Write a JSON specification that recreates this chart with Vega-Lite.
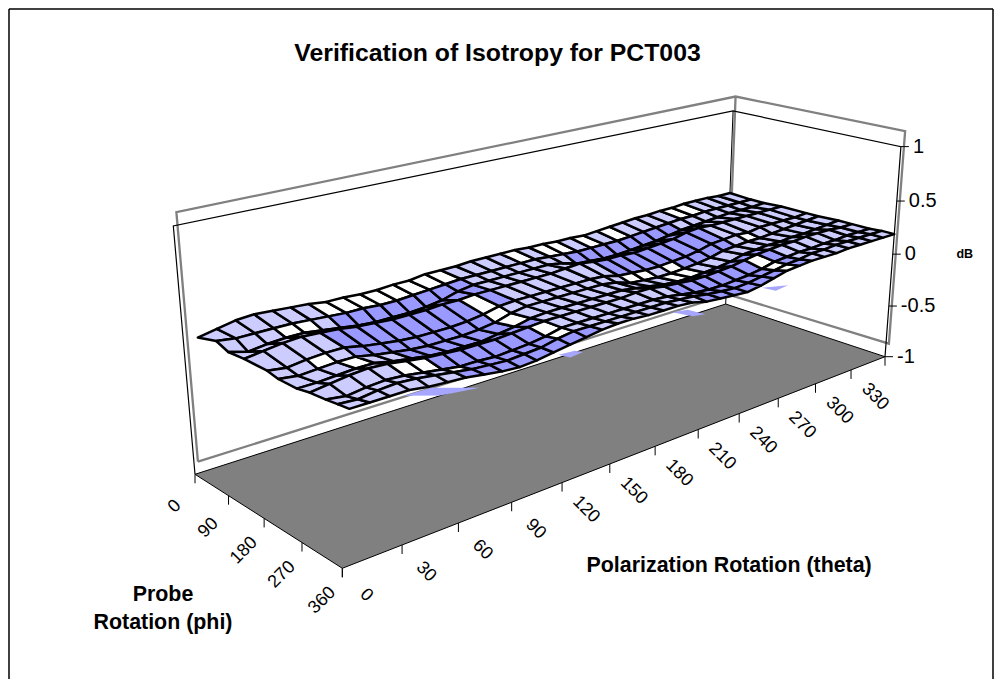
{"$schema":"https://vega.github.io/schema/vega-lite/v6.json","width":1003,"height":679,"padding":0,"autosize":"none","background":"white","config":{"view":{"stroke":null},"text":{"font":"Liberation Sans"}},
"title":{"text":"Verification of Isotropy for PCT003","font":"Liberation Sans","fontSize":24.8,"fontWeight":"bold","color":"#000","anchor":"middle","frame":"group","offset":-66,"dx":-4},
"datasets":{"surface":[
{"theta":0,"phi":0,"dB":0.10,"band":1},{"theta":10,"phi":0,"dB":0.13,"band":1},{"theta":20,"phi":0,"dB":0.16,"band":1},{"theta":30,"phi":0,"dB":0.17,"band":1},{"theta":40,"phi":0,"dB":0.16,"band":1},{"theta":50,"phi":0,"dB":0.15,"band":1},{"theta":60,"phi":0,"dB":0.14,"band":0},{"theta":70,"phi":0,"dB":0.12,"band":0},{"theta":80,"phi":0,"dB":0.12,"band":0},{"theta":90,"phi":0,"dB":0.11,"band":0},{"theta":100,"phi":0,"dB":0.11,"band":0},{"theta":110,"phi":0,"dB":0.12,"band":0},{"theta":120,"phi":0,"dB":0.12,"band":0},{"theta":130,"phi":0,"dB":0.14,"band":0},{"theta":140,"phi":0,"dB":0.14,"band":1},{"theta":150,"phi":0,"dB":0.14,"band":1},{"theta":160,"phi":0,"dB":0.15,"band":1},{"theta":170,"phi":0,"dB":0.15,"band":1},{"theta":180,"phi":0,"dB":0.15,"band":0},{"theta":190,"phi":0,"dB":0.15,"band":1},{"theta":200,"phi":0,"dB":0.14,"band":0},{"theta":210,"phi":0,"dB":0.14,"band":0},{"theta":220,"phi":0,"dB":0.13,"band":1},{"theta":230,"phi":0,"dB":0.13,"band":0},{"theta":240,"phi":0,"dB":0.12,"band":1},{"theta":250,"phi":0,"dB":0.13,"band":0},{"theta":260,"phi":0,"dB":0.14,"band":1},{"theta":270,"phi":0,"dB":0.15,"band":1},{"theta":280,"phi":0,"dB":0.16,"band":1},{"theta":290,"phi":0,"dB":0.16,"band":1},{"theta":300,"phi":0,"dB":0.17,"band":0},{"theta":310,"phi":0,"dB":0.17,"band":0},{"theta":320,"phi":0,"dB":0.18,"band":1},{"theta":330,"phi":0,"dB":0.18,"band":1},{"theta":340,"phi":0,"dB":0.18,"band":1},{"theta":350,"phi":0,"dB":0.17,"band":1},{"theta":360,"phi":0,"dB":0.17,"band":1},
{"theta":0,"phi":50,"dB":0.15,"band":1},{"theta":10,"phi":50,"dB":0.13,"band":1},{"theta":20,"phi":50,"dB":0.13,"band":1},{"theta":30,"phi":50,"dB":0.13,"band":0},{"theta":40,"phi":50,"dB":0.13,"band":0},{"theta":50,"phi":50,"dB":0.12,"band":1},{"theta":60,"phi":50,"dB":0.11,"band":2},{"theta":70,"phi":50,"dB":0.10,"band":2},{"theta":80,"phi":50,"dB":0.10,"band":2},{"theta":90,"phi":50,"dB":0.09,"band":2},{"theta":100,"phi":50,"dB":0.09,"band":2},{"theta":110,"phi":50,"dB":0.10,"band":2},{"theta":120,"phi":50,"dB":0.11,"band":2},{"theta":130,"phi":50,"dB":0.12,"band":2},{"theta":140,"phi":50,"dB":0.13,"band":1},{"theta":150,"phi":50,"dB":0.13,"band":1},{"theta":160,"phi":50,"dB":0.13,"band":1},{"theta":170,"phi":50,"dB":0.13,"band":1},{"theta":180,"phi":50,"dB":0.13,"band":1},{"theta":190,"phi":50,"dB":0.13,"band":1},{"theta":200,"phi":50,"dB":0.12,"band":1},{"theta":210,"phi":50,"dB":0.11,"band":2},{"theta":220,"phi":50,"dB":0.10,"band":2},{"theta":230,"phi":50,"dB":0.10,"band":2},{"theta":240,"phi":50,"dB":0.10,"band":2},{"theta":250,"phi":50,"dB":0.10,"band":2},{"theta":260,"phi":50,"dB":0.11,"band":2},{"theta":270,"phi":50,"dB":0.12,"band":2},{"theta":280,"phi":50,"dB":0.13,"band":2},{"theta":290,"phi":50,"dB":0.14,"band":1},{"theta":300,"phi":50,"dB":0.15,"band":1},{"theta":310,"phi":50,"dB":0.15,"band":1},{"theta":320,"phi":50,"dB":0.16,"band":1},{"theta":330,"phi":50,"dB":0.16,"band":1},{"theta":340,"phi":50,"dB":0.16,"band":1},{"theta":350,"phi":50,"dB":0.16,"band":1},{"theta":360,"phi":50,"dB":0.16,"band":1},
{"theta":0,"phi":80,"dB":0.11,"band":1},{"theta":10,"phi":80,"dB":0.07,"band":1},{"theta":20,"phi":80,"dB":0.09,"band":1},{"theta":30,"phi":80,"dB":0.10,"band":1},{"theta":40,"phi":80,"dB":0.10,"band":1},{"theta":50,"phi":80,"dB":0.08,"band":2},{"theta":60,"phi":80,"dB":0.06,"band":2},{"theta":70,"phi":80,"dB":0.04,"band":2},{"theta":80,"phi":80,"dB":0.03,"band":2},{"theta":90,"phi":80,"dB":0.03,"band":2},{"theta":100,"phi":80,"dB":0.03,"band":2},{"theta":110,"phi":80,"dB":0.04,"band":2},{"theta":120,"phi":80,"dB":0.06,"band":2},{"theta":130,"phi":80,"dB":0.10,"band":2},{"theta":140,"phi":80,"dB":0.12,"band":1},{"theta":150,"phi":80,"dB":0.12,"band":1},{"theta":160,"phi":80,"dB":0.12,"band":1},{"theta":170,"phi":80,"dB":0.12,"band":1},{"theta":180,"phi":80,"dB":0.12,"band":1},{"theta":190,"phi":80,"dB":0.12,"band":1},{"theta":200,"phi":80,"dB":0.10,"band":1},{"theta":210,"phi":80,"dB":0.06,"band":2},{"theta":220,"phi":80,"dB":0.05,"band":2},{"theta":230,"phi":80,"dB":0.04,"band":2},{"theta":240,"phi":80,"dB":0.04,"band":2},{"theta":250,"phi":80,"dB":0.05,"band":2},{"theta":260,"phi":80,"dB":0.06,"band":2},{"theta":270,"phi":80,"dB":0.07,"band":2},{"theta":280,"phi":80,"dB":0.09,"band":2},{"theta":290,"phi":80,"dB":0.11,"band":1},{"theta":300,"phi":80,"dB":0.12,"band":1},{"theta":310,"phi":80,"dB":0.13,"band":1},{"theta":320,"phi":80,"dB":0.14,"band":1},{"theta":330,"phi":80,"dB":0.15,"band":1},{"theta":340,"phi":80,"dB":0.15,"band":1},{"theta":350,"phi":80,"dB":0.15,"band":1},{"theta":360,"phi":80,"dB":0.16,"band":1},
{"theta":0,"phi":120,"dB":0.12,"band":1},{"theta":10,"phi":120,"dB":0.14,"band":1},{"theta":20,"phi":120,"dB":0.16,"band":1},{"theta":30,"phi":120,"dB":0.17,"band":1},{"theta":40,"phi":120,"dB":0.16,"band":2},{"theta":50,"phi":120,"dB":0.15,"band":2},{"theta":60,"phi":120,"dB":0.13,"band":2},{"theta":70,"phi":120,"dB":0.12,"band":2},{"theta":80,"phi":120,"dB":0.11,"band":2},{"theta":90,"phi":120,"dB":0.11,"band":2},{"theta":100,"phi":120,"dB":0.11,"band":2},{"theta":110,"phi":120,"dB":0.12,"band":2},{"theta":120,"phi":120,"dB":0.12,"band":0},{"theta":130,"phi":120,"dB":0.13,"band":2},{"theta":140,"phi":120,"dB":0.13,"band":1},{"theta":150,"phi":120,"dB":0.13,"band":1},{"theta":160,"phi":120,"dB":0.13,"band":1},{"theta":170,"phi":120,"dB":0.13,"band":1},{"theta":180,"phi":120,"dB":0.13,"band":1},{"theta":190,"phi":120,"dB":0.14,"band":1},{"theta":200,"phi":120,"dB":0.15,"band":1},{"theta":210,"phi":120,"dB":0.13,"band":2},{"theta":220,"phi":120,"dB":0.12,"band":2},{"theta":230,"phi":120,"dB":0.12,"band":2},{"theta":240,"phi":120,"dB":0.11,"band":2},{"theta":250,"phi":120,"dB":0.12,"band":2},{"theta":260,"phi":120,"dB":0.13,"band":2},{"theta":270,"phi":120,"dB":0.14,"band":2},{"theta":280,"phi":120,"dB":0.17,"band":2},{"theta":290,"phi":120,"dB":0.18,"band":1},{"theta":300,"phi":120,"dB":0.17,"band":1},{"theta":310,"phi":120,"dB":0.17,"band":1},{"theta":320,"phi":120,"dB":0.17,"band":1},{"theta":330,"phi":120,"dB":0.17,"band":1},{"theta":340,"phi":120,"dB":0.17,"band":1},{"theta":350,"phi":120,"dB":0.17,"band":1},{"theta":360,"phi":120,"dB":0.17,"band":1},
{"theta":0,"phi":176,"dB":0.12,"band":1},{"theta":10,"phi":176,"dB":0.10,"band":1},{"theta":20,"phi":176,"dB":0.12,"band":0},{"theta":30,"phi":176,"dB":0.13,"band":1},{"theta":40,"phi":176,"dB":0.13,"band":2},{"theta":50,"phi":176,"dB":0.10,"band":2},{"theta":60,"phi":176,"dB":0.08,"band":2},{"theta":70,"phi":176,"dB":0.06,"band":2},{"theta":80,"phi":176,"dB":0.05,"band":2},{"theta":90,"phi":176,"dB":0.05,"band":2},{"theta":100,"phi":176,"dB":0.05,"band":2},{"theta":110,"phi":176,"dB":0.06,"band":2},{"theta":120,"phi":176,"dB":0.08,"band":0},{"theta":130,"phi":176,"dB":0.11,"band":1},{"theta":140,"phi":176,"dB":0.12,"band":1},{"theta":150,"phi":176,"dB":0.12,"band":1},{"theta":160,"phi":176,"dB":0.12,"band":1},{"theta":170,"phi":176,"dB":0.12,"band":1},{"theta":180,"phi":176,"dB":0.12,"band":1},{"theta":190,"phi":176,"dB":0.12,"band":1},{"theta":200,"phi":176,"dB":0.11,"band":1},{"theta":210,"phi":176,"dB":0.08,"band":0},{"theta":220,"phi":176,"dB":0.07,"band":0},{"theta":230,"phi":176,"dB":0.06,"band":1},{"theta":240,"phi":176,"dB":0.06,"band":0},{"theta":250,"phi":176,"dB":0.07,"band":2},{"theta":260,"phi":176,"dB":0.08,"band":2},{"theta":270,"phi":176,"dB":0.10,"band":2},{"theta":280,"phi":176,"dB":0.13,"band":2},{"theta":290,"phi":176,"dB":0.14,"band":1},{"theta":300,"phi":176,"dB":0.15,"band":0},{"theta":310,"phi":176,"dB":0.14,"band":1},{"theta":320,"phi":176,"dB":0.16,"band":1},{"theta":330,"phi":176,"dB":0.16,"band":1},{"theta":340,"phi":176,"dB":0.16,"band":1},{"theta":350,"phi":176,"dB":0.16,"band":1},{"theta":360,"phi":176,"dB":0.17,"band":1},
{"theta":0,"phi":202,"dB":0.10,"band":1},{"theta":10,"phi":202,"dB":0.08,"band":1},{"theta":20,"phi":202,"dB":0.09,"band":1},{"theta":30,"phi":202,"dB":0.10,"band":0},{"theta":40,"phi":202,"dB":0.10,"band":1},{"theta":50,"phi":202,"dB":0.07,"band":1},{"theta":60,"phi":202,"dB":0.05,"band":2},{"theta":70,"phi":202,"dB":0.03,"band":2},{"theta":80,"phi":202,"dB":0.02,"band":2},{"theta":90,"phi":202,"dB":0.02,"band":2},{"theta":100,"phi":202,"dB":0.02,"band":2},{"theta":110,"phi":202,"dB":0.03,"band":2},{"theta":120,"phi":202,"dB":0.05,"band":0},{"theta":130,"phi":202,"dB":0.09,"band":1},{"theta":140,"phi":202,"dB":0.11,"band":1},{"theta":150,"phi":202,"dB":0.11,"band":1},{"theta":160,"phi":202,"dB":0.11,"band":1},{"theta":170,"phi":202,"dB":0.11,"band":1},{"theta":180,"phi":202,"dB":0.11,"band":1},{"theta":190,"phi":202,"dB":0.11,"band":1},{"theta":200,"phi":202,"dB":0.09,"band":1},{"theta":210,"phi":202,"dB":0.05,"band":1},{"theta":220,"phi":202,"dB":0.04,"band":1},{"theta":230,"phi":202,"dB":0.03,"band":0},{"theta":240,"phi":202,"dB":0.03,"band":0},{"theta":250,"phi":202,"dB":0.04,"band":1},{"theta":260,"phi":202,"dB":0.05,"band":1},{"theta":270,"phi":202,"dB":0.07,"band":1},{"theta":280,"phi":202,"dB":0.10,"band":1},{"theta":290,"phi":202,"dB":0.11,"band":1},{"theta":300,"phi":202,"dB":0.12,"band":1},{"theta":310,"phi":202,"dB":0.12,"band":1},{"theta":320,"phi":202,"dB":0.13,"band":1},{"theta":330,"phi":202,"dB":0.14,"band":1},{"theta":340,"phi":202,"dB":0.15,"band":1},{"theta":350,"phi":202,"dB":0.16,"band":1},{"theta":360,"phi":202,"dB":0.17,"band":1},
{"theta":0,"phi":245,"dB":0.10,"band":1},{"theta":10,"phi":245,"dB":0.10,"band":1},{"theta":20,"phi":245,"dB":0.11,"band":1},{"theta":30,"phi":245,"dB":0.12,"band":1},{"theta":40,"phi":245,"dB":0.12,"band":1},{"theta":50,"phi":245,"dB":0.09,"band":1},{"theta":60,"phi":245,"dB":0.07,"band":2},{"theta":70,"phi":245,"dB":0.05,"band":2},{"theta":80,"phi":245,"dB":0.04,"band":2},{"theta":90,"phi":245,"dB":0.04,"band":2},{"theta":100,"phi":245,"dB":0.04,"band":2},{"theta":110,"phi":245,"dB":0.06,"band":2},{"theta":120,"phi":245,"dB":0.08,"band":2},{"theta":130,"phi":245,"dB":0.11,"band":1},{"theta":140,"phi":245,"dB":0.12,"band":1},{"theta":150,"phi":245,"dB":0.12,"band":1},{"theta":160,"phi":245,"dB":0.12,"band":1},{"theta":170,"phi":245,"dB":0.12,"band":1},{"theta":180,"phi":245,"dB":0.12,"band":1},{"theta":190,"phi":245,"dB":0.12,"band":1},{"theta":200,"phi":245,"dB":0.10,"band":1},{"theta":210,"phi":245,"dB":0.08,"band":2},{"theta":220,"phi":245,"dB":0.06,"band":2},{"theta":230,"phi":245,"dB":0.05,"band":2},{"theta":240,"phi":245,"dB":0.05,"band":2},{"theta":250,"phi":245,"dB":0.06,"band":2},{"theta":260,"phi":245,"dB":0.07,"band":2},{"theta":270,"phi":245,"dB":0.09,"band":2},{"theta":280,"phi":245,"dB":0.12,"band":2},{"theta":290,"phi":245,"dB":0.13,"band":1},{"theta":300,"phi":245,"dB":0.14,"band":1},{"theta":310,"phi":245,"dB":0.14,"band":1},{"theta":320,"phi":245,"dB":0.15,"band":1},{"theta":330,"phi":245,"dB":0.15,"band":1},{"theta":340,"phi":245,"dB":0.16,"band":1},{"theta":350,"phi":245,"dB":0.17,"band":1},{"theta":360,"phi":245,"dB":0.18,"band":1},
{"theta":0,"phi":274,"dB":0.12,"band":1},{"theta":10,"phi":274,"dB":0.14,"band":1},{"theta":20,"phi":274,"dB":0.16,"band":1},{"theta":30,"phi":274,"dB":0.17,"band":1},{"theta":40,"phi":274,"dB":0.16,"band":0},{"theta":50,"phi":274,"dB":0.14,"band":0},{"theta":60,"phi":274,"dB":0.12,"band":2},{"theta":70,"phi":274,"dB":0.11,"band":2},{"theta":80,"phi":274,"dB":0.10,"band":2},{"theta":90,"phi":274,"dB":0.10,"band":2},{"theta":100,"phi":274,"dB":0.10,"band":2},{"theta":110,"phi":274,"dB":0.11,"band":2},{"theta":120,"phi":274,"dB":0.12,"band":0},{"theta":130,"phi":274,"dB":0.13,"band":1},{"theta":140,"phi":274,"dB":0.13,"band":1},{"theta":150,"phi":274,"dB":0.13,"band":1},{"theta":160,"phi":274,"dB":0.13,"band":1},{"theta":170,"phi":274,"dB":0.13,"band":1},{"theta":180,"phi":274,"dB":0.13,"band":1},{"theta":190,"phi":274,"dB":0.14,"band":1},{"theta":200,"phi":274,"dB":0.14,"band":1},{"theta":210,"phi":274,"dB":0.12,"band":2},{"theta":220,"phi":274,"dB":0.11,"band":2},{"theta":230,"phi":274,"dB":0.10,"band":2},{"theta":240,"phi":274,"dB":0.10,"band":2},{"theta":250,"phi":274,"dB":0.11,"band":2},{"theta":260,"phi":274,"dB":0.12,"band":2},{"theta":270,"phi":274,"dB":0.14,"band":0},{"theta":280,"phi":274,"dB":0.16,"band":2},{"theta":290,"phi":274,"dB":0.17,"band":1},{"theta":300,"phi":274,"dB":0.18,"band":1},{"theta":310,"phi":274,"dB":0.18,"band":1},{"theta":320,"phi":274,"dB":0.19,"band":1},{"theta":330,"phi":274,"dB":0.19,"band":1},{"theta":340,"phi":274,"dB":0.19,"band":1},{"theta":350,"phi":274,"dB":0.18,"band":1},{"theta":360,"phi":274,"dB":0.18,"band":1},
{"theta":0,"phi":310,"dB":0.13,"band":1},{"theta":10,"phi":310,"dB":0.11,"band":1},{"theta":20,"phi":310,"dB":0.13,"band":1},{"theta":30,"phi":310,"dB":0.14,"band":1},{"theta":40,"phi":310,"dB":0.13,"band":1},{"theta":50,"phi":310,"dB":0.11,"band":1},{"theta":60,"phi":310,"dB":0.09,"band":0},{"theta":70,"phi":310,"dB":0.07,"band":2},{"theta":80,"phi":310,"dB":0.07,"band":2},{"theta":90,"phi":310,"dB":0.06,"band":2},{"theta":100,"phi":310,"dB":0.07,"band":2},{"theta":110,"phi":310,"dB":0.08,"band":2},{"theta":120,"phi":310,"dB":0.10,"band":0},{"theta":130,"phi":310,"dB":0.13,"band":1},{"theta":140,"phi":310,"dB":0.13,"band":1},{"theta":150,"phi":310,"dB":0.13,"band":1},{"theta":160,"phi":310,"dB":0.13,"band":1},{"theta":170,"phi":310,"dB":0.13,"band":1},{"theta":180,"phi":310,"dB":0.13,"band":1},{"theta":190,"phi":310,"dB":0.13,"band":1},{"theta":200,"phi":310,"dB":0.12,"band":1},{"theta":210,"phi":310,"dB":0.10,"band":2},{"theta":220,"phi":310,"dB":0.08,"band":2},{"theta":230,"phi":310,"dB":0.07,"band":2},{"theta":240,"phi":310,"dB":0.07,"band":2},{"theta":250,"phi":310,"dB":0.08,"band":2},{"theta":260,"phi":310,"dB":0.09,"band":2},{"theta":270,"phi":310,"dB":0.11,"band":0},{"theta":280,"phi":310,"dB":0.14,"band":2},{"theta":290,"phi":310,"dB":0.15,"band":1},{"theta":300,"phi":310,"dB":0.16,"band":1},{"theta":310,"phi":310,"dB":0.16,"band":1},{"theta":320,"phi":310,"dB":0.17,"band":1},{"theta":330,"phi":310,"dB":0.17,"band":1},{"theta":340,"phi":310,"dB":0.18,"band":1},{"theta":350,"phi":310,"dB":0.18,"band":1},{"theta":360,"phi":310,"dB":0.18,"band":1},
{"theta":0,"phi":335,"dB":0.14,"band":1},{"theta":10,"phi":335,"dB":0.13,"band":1},{"theta":20,"phi":335,"dB":0.15,"band":1},{"theta":30,"phi":335,"dB":0.16,"band":1},{"theta":40,"phi":335,"dB":0.15,"band":1},{"theta":50,"phi":335,"dB":0.13,"band":1},{"theta":60,"phi":335,"dB":0.11,"band":2},{"theta":70,"phi":335,"dB":0.09,"band":2},{"theta":80,"phi":335,"dB":0.08,"band":2},{"theta":90,"phi":335,"dB":0.07,"band":2},{"theta":100,"phi":335,"dB":0.08,"band":2},{"theta":110,"phi":335,"dB":0.09,"band":2},{"theta":120,"phi":335,"dB":0.12,"band":2},{"theta":130,"phi":335,"dB":0.14,"band":2},{"theta":140,"phi":335,"dB":0.14,"band":1},{"theta":150,"phi":335,"dB":0.14,"band":1},{"theta":160,"phi":335,"dB":0.14,"band":1},{"theta":170,"phi":335,"dB":0.14,"band":1},{"theta":180,"phi":335,"dB":0.14,"band":1},{"theta":190,"phi":335,"dB":0.14,"band":1},{"theta":200,"phi":335,"dB":0.13,"band":1},{"theta":210,"phi":335,"dB":0.12,"band":2},{"theta":220,"phi":335,"dB":0.10,"band":2},{"theta":230,"phi":335,"dB":0.09,"band":2},{"theta":240,"phi":335,"dB":0.08,"band":2},{"theta":250,"phi":335,"dB":0.09,"band":2},{"theta":260,"phi":335,"dB":0.11,"band":2},{"theta":270,"phi":335,"dB":0.13,"band":0},{"theta":280,"phi":335,"dB":0.15,"band":2},{"theta":290,"phi":335,"dB":0.16,"band":1},{"theta":300,"phi":335,"dB":0.18,"band":1},{"theta":310,"phi":335,"dB":0.18,"band":1},{"theta":320,"phi":335,"dB":0.19,"band":1},{"theta":330,"phi":335,"dB":0.19,"band":1},{"theta":340,"phi":335,"dB":0.19,"band":1},{"theta":350,"phi":335,"dB":0.19,"band":1},{"theta":360,"phi":335,"dB":0.19,"band":1},
{"theta":0,"phi":360,"dB":0.15,"band":1},{"theta":10,"phi":360,"dB":0.15,"band":1},{"theta":20,"phi":360,"dB":0.15,"band":1},{"theta":30,"phi":360,"dB":0.15,"band":1},{"theta":40,"phi":360,"dB":0.13,"band":1},{"theta":50,"phi":360,"dB":0.12,"band":1},{"theta":60,"phi":360,"dB":0.11,"band":1},{"theta":70,"phi":360,"dB":0.09,"band":1},{"theta":80,"phi":360,"dB":0.07,"band":1},{"theta":90,"phi":360,"dB":0.06,"band":1},{"theta":100,"phi":360,"dB":0.07,"band":1},{"theta":110,"phi":360,"dB":0.09,"band":1},{"theta":120,"phi":360,"dB":0.11,"band":1},{"theta":130,"phi":360,"dB":0.13,"band":1},{"theta":140,"phi":360,"dB":0.15,"band":1},{"theta":150,"phi":360,"dB":0.16,"band":1},{"theta":160,"phi":360,"dB":0.16,"band":1},{"theta":170,"phi":360,"dB":0.15,"band":1},{"theta":180,"phi":360,"dB":0.15,"band":1},{"theta":190,"phi":360,"dB":0.15,"band":1},{"theta":200,"phi":360,"dB":0.14,"band":1},{"theta":210,"phi":360,"dB":0.11,"band":1},{"theta":220,"phi":360,"dB":0.10,"band":1},{"theta":230,"phi":360,"dB":0.09,"band":1},{"theta":240,"phi":360,"dB":0.08,"band":1},{"theta":250,"phi":360,"dB":0.10,"band":1},{"theta":260,"phi":360,"dB":0.13,"band":1},{"theta":270,"phi":360,"dB":0.16,"band":1},{"theta":280,"phi":360,"dB":0.17,"band":1},{"theta":290,"phi":360,"dB":0.18,"band":1},{"theta":300,"phi":360,"dB":0.18,"band":1},{"theta":310,"phi":360,"dB":0.18,"band":1},{"theta":320,"phi":360,"dB":0.19,"band":1},{"theta":330,"phi":360,"dB":0.19,"band":1},{"theta":340,"phi":360,"dB":0.19,"band":1},{"theta":350,"phi":360,"dB":0.19,"band":1},{"theta":360,"phi":360,"dB":0.19,"band":1}
]},
"data":{"values":[
{"group":"floor","seq":0,"theta":0,"phi":0,"dB":-1},{"group":"floor","seq":1,"theta":360,"phi":0,"dB":-1},{"group":"floor","seq":2,"theta":360,"phi":360,"dB":-1},{"group":"floor","seq":3,"theta":0,"phi":360,"dB":-1},
{"group":"gray1","seq":0,"theta":7.9,"phi":-34.2,"dB":-1},{"group":"gray1","seq":1,"theta":7.9,"phi":-34.2,"dB":1.04},{"group":"gray1","seq":2,"theta":374.4,"phi":-34.2,"dB":1.08},{"group":"gray1","seq":3,"theta":374.4,"phi":334.8,"dB":1.08},{"group":"gray1","seq":4,"theta":374.4,"phi":334.8,"dB":-0.97},{"group":"gray1","seq":5,"theta":374.4,"phi":-34.2,"dB":-1},{"group":"gray1","seq":6,"theta":7.9,"phi":-34.2,"dB":-1},
{"group":"gray2","seq":0,"theta":374.4,"phi":-34.2,"dB":1.08},{"group":"gray2","seq":1,"theta":374.4,"phi":-34.2,"dB":-1},
{"group":"black1","seq":0,"theta":0,"phi":0,"dB":-1},{"group":"black1","seq":1,"theta":0,"phi":0,"dB":1},{"group":"black1","seq":2,"theta":360,"phi":0,"dB":1},{"group":"black1","seq":3,"theta":360,"phi":360,"dB":1},{"group":"black1","seq":4,"theta":360,"phi":360,"dB":-1},
{"group":"black2","seq":0,"theta":360,"phi":0,"dB":-1},{"group":"black2","seq":1,"theta":360,"phi":0,"dB":1},
{"group":"patch1","seq":0,"theta":128,"phi":-37,"dB":-1},{"group":"patch1","seq":1,"theta":145,"phi":-35,"dB":-1},{"group":"patch1","seq":2,"theta":164,"phi":16,"dB":-1},{"group":"patch1","seq":3,"theta":142,"phi":0,"dB":-1},
{"group":"patch2","seq":0,"theta":227,"phi":-10,"dB":-1},{"group":"patch2","seq":1,"theta":238,"phi":-6,"dB":-1},{"group":"patch2","seq":2,"theta":240,"phi":8,"dB":-1},{"group":"patch2","seq":3,"theta":229,"phi":13,"dB":-1},
{"group":"patch3","seq":0,"theta":325,"phi":-34,"dB":-1},{"group":"patch3","seq":1,"theta":335,"phi":-24,"dB":-1},{"group":"patch3","seq":2,"theta":337,"phi":14,"dB":-1},{"group":"patch3","seq":3,"theta":329,"phi":6,"dB":-1},
{"group":"patch4","seq":0,"theta":400,"phi":-18,"dB":-1},{"group":"patch4","seq":1,"theta":416,"phi":5,"dB":-1},{"group":"patch4","seq":2,"theta":402,"phi":11,"dB":-1},
{"group":"thetaTick","theta":0,"phi":360,"dB":-1,"label":"0"},{"group":"thetaTick","theta":30,"phi":360,"dB":-1,"label":"30"},{"group":"thetaTick","theta":60,"phi":360,"dB":-1,"label":"60"},{"group":"thetaTick","theta":90,"phi":360,"dB":-1,"label":"90"},{"group":"thetaTick","theta":120,"phi":360,"dB":-1,"label":"120"},{"group":"thetaTick","theta":150,"phi":360,"dB":-1,"label":"150"},{"group":"thetaTick","theta":180,"phi":360,"dB":-1,"label":"180"},{"group":"thetaTick","theta":210,"phi":360,"dB":-1,"label":"210"},{"group":"thetaTick","theta":240,"phi":360,"dB":-1,"label":"240"},{"group":"thetaTick","theta":270,"phi":360,"dB":-1,"label":"270"},{"group":"thetaTick","theta":300,"phi":360,"dB":-1,"label":"300"},{"group":"thetaTick","theta":330,"phi":360,"dB":-1,"label":"330"},{"group":"thetaTick","theta":360,"phi":360,"dB":-1,"label":""},
{"group":"phiTick","theta":0,"phi":0,"dB":-1,"label":"0"},{"group":"phiTick","theta":0,"phi":90,"dB":-1,"label":"90"},{"group":"phiTick","theta":0,"phi":180,"dB":-1,"label":"180"},{"group":"phiTick","theta":0,"phi":270,"dB":-1,"label":"270"},{"group":"phiTick","theta":0,"phi":360,"dB":-1,"label":"360"},
{"group":"zTick","theta":360,"phi":360,"dB":-1,"label":"-1"},{"group":"zTick","theta":360,"phi":360,"dB":-0.5,"label":"-0.5"},{"group":"zTick","theta":360,"phi":360,"dB":0,"label":"0"},{"group":"zTick","theta":360,"phi":360,"dB":0.5,"label":"0.5"},{"group":"zTick","theta":360,"phi":360,"dB":1,"label":"1"},
{"group":"titleTheta","theta":180,"phi":360,"dB":-1,"label":"Polarization Rotation (theta)"},
{"group":"titlePhi1","theta":0,"phi":270,"dB":-1,"label":"Probe"},{"group":"titlePhi2","theta":0,"phi":270,"dB":-1,"label":"Rotation (phi)"},
{"group":"titleZ","theta":360,"phi":360,"dB":0,"label":"dB"}
]},
"transform":[
{"calculate":"datum.theta/360","as":"u"},{"calculate":"datum.phi/360","as":"v"},{"calculate":"datum.dB+1","as":"s"},
{"calculate":"1+0.319*datum.u-0.11574*datum.v-0.02804*datum.s","as":"w"},
{"calculate":"(762.2*datum.u+107.7*datum.v-15.7*datum.s+195)/datum.w","as":"px"},
{"calculate":"(-73.3*datum.u+28.2*datum.v-130.5*datum.s+474.3)/datum.w","as":"py"}
],
"encoding":{
"x":{"field":"px","type":"quantitative","scale":{"domain":[0,1003],"nice":false,"zero":false},"axis":null},
"y":{"field":"py","type":"quantitative","scale":{"domain":[679,0],"nice":false,"zero":false},"axis":null}
},
"layer":[
{"transform":[{"filter":"datum.group=='floor'&&datum.seq==0"}],"mark":{"type":"rule","stroke":"#000","strokeWidth":1.5},"encoding":{"x":{"datum":9},"y":{"datum":9},"y2":{"datum":679}}},
{"transform":[{"filter":"datum.group=='floor'&&datum.seq==0"}],"mark":{"type":"rule","stroke":"#000","strokeWidth":1.5},"encoding":{"x":{"datum":993},"y":{"datum":9},"y2":{"datum":679}}},
{"transform":[{"filter":"datum.group=='floor'&&datum.seq==0"}],"mark":{"type":"rule","stroke":"#000","strokeWidth":1.5},"encoding":{"x":{"datum":9},"x2":{"datum":993},"y":{"datum":9}}},
{"transform":[{"filter":"datum.group=='gray1'||datum.group=='gray2'"}],"mark":{"type":"line","stroke":"#808080","strokeWidth":2.3,"strokeJoin":"miter"},"encoding":{"detail":{"field":"group"},"order":{"field":"seq","type":"quantitative"}}},
{"transform":[{"filter":"datum.group=='black2'"}],"mark":{"type":"line","stroke":"#000","strokeWidth":1},"encoding":{"order":{"field":"seq","type":"quantitative"}}},
{"transform":[{"filter":"datum.group=='floor'"}],"mark":{"type":"line","interpolate":"linear-closed","fill":"#808080","stroke":"#000","strokeWidth":1},"encoding":{"order":{"field":"seq","type":"quantitative"}}},
{"transform":[{"filter":"indexof(datum.group,'patch')==0"}],"mark":{"type":"line","interpolate":"linear-closed","fill":"#A6A6FF","stroke":null,"strokeWidth":0},"encoding":{"detail":{"field":"group"},"order":{"field":"seq","type":"quantitative"}}},
{"data":{"name":"surface"},"transform":[
{"calculate":"0.02+0.98*datum.theta/360","as":"u"},{"calculate":"datum.phi/360","as":"v"},{"calculate":"datum.dB+1","as":"s"},
{"calculate":"1+0.319*datum.u-0.11574*datum.v-0.02804*datum.s","as":"w"},
{"calculate":"(762.2*datum.u+107.7*datum.v-15.7*datum.s+195)/datum.w","as":"px"},
{"calculate":"(-73.3*datum.u+28.2*datum.v-130.5*datum.s+474.3)/datum.w","as":"py"},
{"calculate":"datum.theta/10","as":"i"},
{"calculate":"indexof([0,50,80,120,176,202,245,274,310,335,360],datum.phi)","as":"j"},
{"calculate":"[0,1,2,3]","as":"corner"},{"flatten":["corner"]},
{"calculate":"datum.i-((datum.corner==1||datum.corner==2)?1:0)","as":"ci"},
{"calculate":"datum.j-(datum.corner>=2?1:0)","as":"cj"},
{"filter":"datum.ci>=0&&datum.ci<36&&datum.cj>=0&&datum.cj<10"},
{"calculate":"datum.corner==0?datum.band:-1","as":"b0"},
{"joinaggregate":[{"op":"max","field":"b0","as":"cellBand"}],"groupby":["ci","cj"]},
{"calculate":"datum.ci*100+datum.cj","as":"cell"}
],"mark":{"type":"line","interpolate":"linear-closed","stroke":"#000","strokeWidth":2.5,"strokeJoin":"round"},"encoding":{"detail":{"field":"cell","type":"nominal"},"order":{"field":"corner","type":"quantitative"},"fill":{"field":"cellBand","type":"nominal","scale":{"domain":[0,1,2],"range":["#FFFFFF","#CCCCFF","#9999FF"]},"legend":null}}},
{"transform":[{"filter":"datum.group=='black1'"}],"mark":{"type":"line","stroke":"#000","strokeWidth":1.2},"encoding":{"order":{"field":"seq","type":"quantitative"}}},
{"transform":[{"filter":"datum.group=='thetaTick'||datum.group=='phiTick'"}],"mark":{"type":"rule","stroke":"#000","strokeWidth":1,"y2Offset":9},"encoding":{"y2":{"field":"py"}}},
{"transform":[{"filter":"datum.group=='zTick'"}],"mark":{"type":"rule","stroke":"#000","strokeWidth":1,"x2Offset":8},"encoding":{"x2":{"field":"px"}}},
{"transform":[{"filter":"datum.group=='thetaTick'"}],"mark":{"type":"text","font":"Liberation Sans","fontSize":18,"angle":45,"align":"center","baseline":"middle","dx":36,"dy":2,"color":"#000"},"encoding":{"text":{"field":"label"}}},
{"transform":[{"filter":"datum.group=='phiTick'"}],"mark":{"type":"text","font":"Liberation Sans","fontSize":18,"angle":-45,"align":"center","baseline":"middle","dx":-37,"dy":8.5,"color":"#000"},"encoding":{"text":{"field":"label"}}},
{"transform":[{"filter":"datum.group=='zTick'"}],"mark":{"type":"text","font":"Liberation Sans","fontSize":20,"align":"left","baseline":"middle","dx":12,"color":"#000"},"encoding":{"text":{"field":"label"}}},
{"transform":[{"filter":"datum.group=='titleTheta'"}],"mark":{"type":"text","font":"Liberation Sans","fontSize":21.4,"fontWeight":"bold","align":"center","baseline":"middle","dx":74,"dy":120,"color":"#000"},"encoding":{"text":{"field":"label"}}},
{"transform":[{"filter":"datum.group=='titlePhi1'"}],"mark":{"type":"text","font":"Liberation Sans","fontSize":21.4,"fontWeight":"bold","align":"center","baseline":"middle","dx":-139,"dy":52,"color":"#000"},"encoding":{"text":{"field":"label"}}},
{"transform":[{"filter":"datum.group=='titlePhi2'"}],"mark":{"type":"text","font":"Liberation Sans","fontSize":21.4,"fontWeight":"bold","align":"center","baseline":"middle","dx":-139,"dy":80,"color":"#000"},"encoding":{"text":{"field":"label"}}},
{"transform":[{"filter":"datum.group=='titleZ'"}],"mark":{"type":"text","font":"Liberation Sans","fontSize":12.5,"fontWeight":"bold","align":"center","baseline":"middle","dx":72,"color":"#000"},"encoding":{"text":{"field":"label"}}}
]}
